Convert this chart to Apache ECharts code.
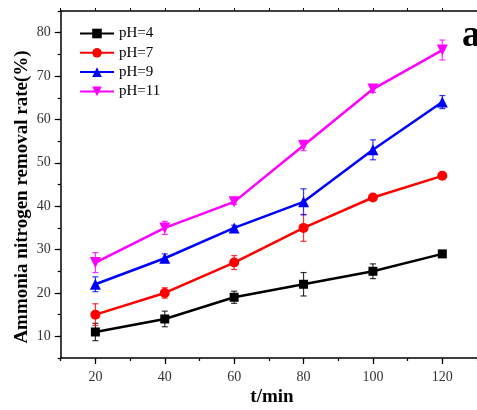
<!DOCTYPE html>
<html>
<head>
<meta charset="utf-8">
<script src="https://cdn.jsdelivr.net/npm/echarts@6/dist/echarts.min.js"></script>
<style>
  html, body { margin: 0; padding: 0; background: #fff; }
  #main { width: 477px; height: 410px; }
</style>
</head>
<body>
<div id="main"></div>
<script>
// time points (min)
const times = [20, 40, 60, 80, 100, 120];
const xTicks = [20, 40, 60, 80, 100, 120];
const yTicks = [10, 20, 30, 40, 50, 60, 70, 80];

// removal rate (%) and error (+/-)
const ph4 = [11, 14, 19, 22, 25, 29];
const err4 = [2, 1.8, 1.4, 2.7, 1.7, 0.6];
const ph7 = [15, 20, 27, 35, 42, 47];
const err7 = [2.5, 1.2, 1.6, 3.1, 0.4, 0.5];
const ph9 = [22, 28, 35, 41, 53, 64];
const err9 = [1.7, 1, 0.6, 3, 2.3, 1.5];
const ph11 = [27, 35, 41, 54, 67, 76];
const err11 = [2.3, 1.5, 0.6, 1.2, 0.8, 2.3];

const FONT = '"Liberation Serif", "Times New Roman", serif';

const chartDom = document.getElementById('main');
const myChart = echarts.init(chartDom);

function lineSeries(name, vals, color, symbol, size) {
  return {
    name: name,
    type: 'line',
    data: times.map((t, i) => [t, vals[i]]),
    symbol: symbol,
    symbolSize: size,
    lineStyle: { color: color, width: 2.5 },
    itemStyle: { color: color },
    z: 3
  };
}

function errSeries(vals, errs, color) {
  return {
    type: 'custom',
    data: times.map((t, i) => [t, vals[i] - errs[i], vals[i] + errs[i]]),
    renderItem: function (params, api) {
      const lo = api.coord([api.value(0), api.value(1)]);
      const hi = api.coord([api.value(0), api.value(2)]);
      const cap = 3;
      const st = { stroke: color, lineWidth: 1.2, opacity: 0.8 };
      return {
        type: 'group',
        children: [
          { type: 'line', shape: { x1: lo[0], y1: lo[1], x2: hi[0], y2: hi[1] }, style: st },
          { type: 'line', shape: { x1: lo[0] - cap, y1: lo[1], x2: lo[0] + cap, y2: lo[1] }, style: st },
          { type: 'line', shape: { x1: hi[0] - cap, y1: hi[1], x2: hi[0] + cap, y2: hi[1] }, style: st }
        ]
      };
    },
    z: 2,
    silent: true
  };
}

const axisLine = { show: true, lineStyle: { color: '#000', width: 1.5 } };
const labelStyle = { color: '#333', fontFamily: FONT, fontSize: 14 };

var option = {
  animation: false,
  grid: { left: 60.7, right: -7.7, top: 11, bottom: 52 },
  legend: {
    orient: 'vertical',
    left: 74,
    top: 21,
    itemWidth: 34,
    itemHeight: 12,
    itemGap: 4.3,
    textStyle: { fontFamily: FONT, fontSize: 15, color: '#000' },
    data: ['pH=4', 'pH=7', 'pH=9', 'pH=11']
  },
  xAxis: [
    {
      type: 'value', min: 10, max: 130, position: 'bottom',
      axisLine: axisLine,
      axisTick: { show: true, customValues: xTicks, length: 6, lineStyle: { color: '#000', width: 1.2 } },
      axisLabel: { customValues: xTicks, margin: 12, ...labelStyle },
      splitLine: { show: false }
    },
    {
      type: 'value', min: 10, max: 130, interval: 10, position: 'bottom',
      axisLine: { show: false },
      axisTick: { show: true, length: 3, lineStyle: { color: '#000', width: 1.2 } },
      axisLabel: { show: false },
      splitLine: { show: false }
    },
    {
      type: 'value', min: 10, max: 130, interval: 10, position: 'top',
      axisLine: axisLine,
      axisTick: { show: true, length: 3, lineStyle: { color: '#000', width: 1 } },
      axisLabel: { show: false },
      splitLine: { show: false }
    }
  ],
  yAxis: [
    {
      type: 'value', min: 5, max: 85, position: 'left',
      axisLine: axisLine,
      axisTick: { show: true, customValues: yTicks, length: 6, lineStyle: { color: '#000', width: 1.2 } },
      axisLabel: { customValues: yTicks, margin: 10, ...labelStyle },
      splitLine: { show: false }
    },
    {
      type: 'value', min: 5, max: 85, interval: 5, position: 'left',
      axisLine: { show: false },
      axisTick: { show: true, length: 3, lineStyle: { color: '#000', width: 1.2 } },
      axisLabel: { show: false },
      splitLine: { show: false }
    }
  ],
  graphic: [
    {
      type: 'text', x: 22, y: 197, rotation: Math.PI / 2,
      style: {
        text: 'Ammonia nitrogen removal rate(%)',
        font: 'bold 19px ' + FONT, fill: '#000',
        align: 'center', verticalAlign: 'middle'
      }
    },
    {
      type: 'text', x: 272, y: 397,
      style: {
        text: 't/min', font: 'bold 19px ' + FONT, fill: '#000',
        align: 'center', verticalAlign: 'middle'
      }
    },
    {
      type: 'text', x: 462, y: 36,
      style: {
        text: 'a', font: 'bold 37px ' + FONT, fill: '#000',
        align: 'left', verticalAlign: 'middle'
      }
    }
  ],
  series: [
    errSeries(ph4, err4, '#000'),
    errSeries(ph7, err7, '#ff0000'),
    errSeries(ph9, err9, '#0000ff'),
    errSeries(ph11, err11, '#ff00ff'),
    lineSeries('pH=4', ph4, '#000', 'rect', 9),
    lineSeries('pH=7', ph7, '#ff0000', 'circle', 10),
    lineSeries('pH=9', ph9, '#0000ff', 'triangle', 11),
    lineSeries('pH=11', ph11, '#ff00ff', 'path://M0,0 L10,0 L5,10 Z', 11)
  ]
};
option && myChart.setOption(option);
</script>
</body>
</html>
